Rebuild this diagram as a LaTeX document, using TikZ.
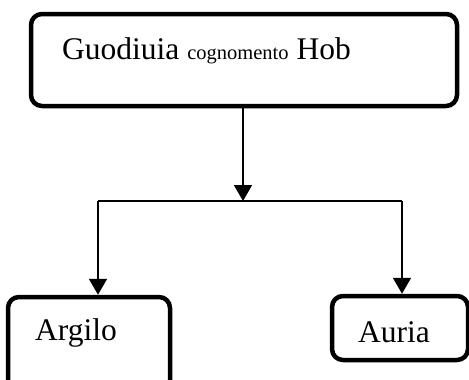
\documentclass[tikz,border=0pt]{standalone}
\usepackage{fontspec}
\setmainfont{Liberation Serif}
\usetikzlibrary{positioning, arrows.meta, calc}

\begin{document}
\begin{tikzpicture}[x=1pt, y=-1pt, font=\fontsize{31.5}{36}\selectfont,
    box/.style={draw, line width=4.5pt, rounded corners=11pt},
    link/.style={-{Triangle[width=18pt, length=16pt]}, line width=1.8pt}]
        \clip (0,0) rectangle (469,380);
        % Top
        \node[box, minimum width=426pt, minimum height=92pt] (hob) at (244,60) {};
        \node[anchor=west, inner sep=0pt] (hobtext) at (62,51)
              {Guodiuia {\fontsize{20.5}{24}\selectfont cognomento} Hob};
        % Children
        \node[box, minimum width=162pt, minimum height=110pt] (argilo) at (89,352) {};
        \node[inner sep=0pt] (argilotext) at (76,333) {Argilo};
        \node[box, minimum width=136pt, minimum height=64pt] (auria) at (400,328) {};
        \node[inner sep=0pt] (auriatext) at (394,332) {Auria};
        % Split
        \coordinate (split) at (243,201);
        \coordinate (lsplit) at (98,201);
        \coordinate (rsplit) at (402,201);
        \draw[link] (hob.south -| split) -- (split);
        \draw[line width=1.5pt] (lsplit) -- (rsplit);
        \draw[link] (lsplit) -- (lsplit |- argilo.north);
        \draw[link] (rsplit) -- (rsplit |- auria.north);
      \end{tikzpicture}
\end{document}
